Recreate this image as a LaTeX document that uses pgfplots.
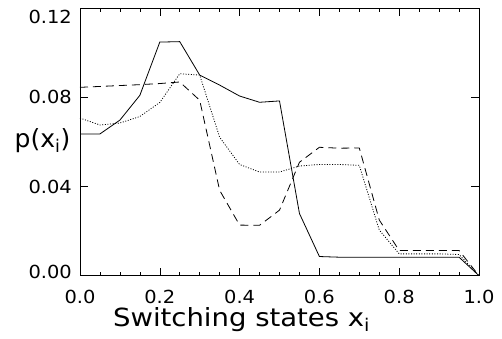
\documentclass[border=0pt]{standalone}
\usepackage{pgfplots}
\pgfplotsset{compat=1.18}
\usepackage{graphicx}
\usepackage{fontspec}
\setmainfont{DejaVu Sans}
% tick labels, slightly widened
\newcommand{\tl}[1]{\scalebox{1.08}[1]{#1}}

\pgfplotstableread{
x      solid    dashed   dotted
0.00   0.0636   0.0845   0.0707
0.05   0.0636   0.0849   0.0676
0.10   0.0698   0.0853   0.0685
0.15   0.0809   0.0857   0.0714
0.20   0.1048   0.0862   0.0777
0.25   0.1050   0.0869   0.0906
0.30   0.0900   0.0787   0.0900
0.35   0.0855   0.0383   0.0621
0.40   0.0806   0.0227   0.0499
0.45   0.0778   0.0226   0.0465
0.50   0.0784   0.0294   0.0465
0.55   0.0279   0.0509   0.0492
0.60   0.0086   0.0576   0.0499
0.65   0.0083   0.0572   0.0499
0.70   0.0083   0.0573   0.0495
0.75   0.0083   0.0250   0.0205
0.80   0.0083   0.0113   0.0098
0.85   0.0083   0.0113   0.0098
0.90   0.0083   0.0113   0.0098
0.95   0.0083   0.0113   0.0095
1.00   0.0000   0.0000   0.0000
}\datatable

\begin{document}
\begin{tikzpicture}
\path[use as bounding box] (0,0) rectangle (502pt,339pt);
\begin{axis}[
  at={(80pt,63.3pt)}, anchor=south west,
  scale only axis, width=399pt, height=267.5pt,
  xmin=0, xmax=1, ymin=0, ymax=0.12,
  xtick={0,0.2,...,1.0},
  minor x tick num=3,
  ytick={0,0.04,0.08,0.12},
  xticklabels={\tl{0.0},\tl{0.2},\tl{0.4},\tl{0.6},\tl{0.8},\tl{1.0}},
  yticklabels={\raisebox{4pt}[\height][0pt]{\tl{0.00}},\tl{0.04},\tl{0.08},\raisebox{-8.4pt}[\height][0pt]{\tl{0.12}}},
  tick align=inside,
  major tick length=8pt, minor tick length=4pt,
  tick style={black, line width=0.6pt},
  axis line style={line width=0.7pt},
  ticklabel style={font=\fontsize{18}{20}\selectfont, inner sep=0pt},
  xticklabel style={anchor=north, yshift=-14.7pt},
  yticklabel style={anchor=east, xshift=-8pt},
  clip=false,
]
\addplot[black, line width=0.8pt] table[x=x, y=solid] {\datatable};
\addplot[black, line width=0.8pt, dash pattern=on 8pt off 5pt] table[x=x, y=dashed] {\datatable};
\addplot[black, line width=0.8pt, dash pattern=on 1pt off 1.6pt] table[x=x, y=dotted] {\datatable};
\node[font=\fontsize{25}{27}\selectfont, anchor=base, inner sep=0pt] at (axis description cs:-0.094,0.48) {p(x\textsubscript{i})};
\node[font=\fontsize{25}{27}\selectfont, anchor=base, inner sep=0pt] at (axis description cs:0.405,-0.19) {\scalebox{1.1}[1]{Switching states x\textsubscript{i}}};
\end{axis}
\end{tikzpicture}
\end{document}
